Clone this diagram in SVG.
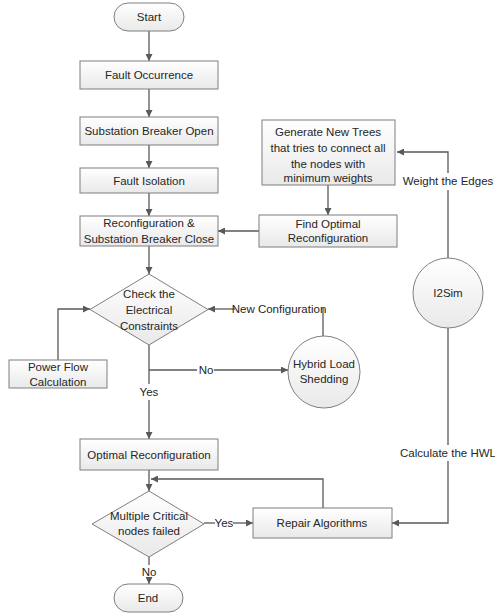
<svg xmlns="http://www.w3.org/2000/svg" width="495" height="615" viewBox="0 0 495 615">
<defs>
<linearGradient id="g" x1="0" y1="0" x2="0" y2="1">
<stop offset="0" stop-color="#ffffff"/>
<stop offset="1" stop-color="#e9e9e9"/>
</linearGradient>
<marker id="a" viewBox="0 0 10 10" refX="10" refY="5" markerWidth="7" markerHeight="7" markerUnits="userSpaceOnUse" orient="auto">
<path d="M0,0 L10,5 L0,10 z" fill="#595959"/>
</marker>
<style>
.n{fill:url(#g);stroke:#7f7f7f;stroke-width:1}
.t{font-family:"Liberation Sans",Arial,sans-serif;font-size:11.5px;fill:#262626;text-anchor:middle}
.c{fill:none;stroke:#595959;stroke-width:1.3}
.ca{fill:none;stroke:#595959;stroke-width:1.3;marker-end:url(#a)}
</style>
</defs>
<rect width="495" height="615" fill="#ffffff"/>
<g id="connectors">
<line class="ca" x1="149" y1="31" x2="149" y2="61"/>
<line class="ca" x1="149" y1="89" x2="149" y2="117"/>
<line class="ca" x1="149" y1="145" x2="149" y2="168"/>
<line class="ca" x1="149" y1="193" x2="149" y2="216"/>
<line class="ca" x1="149" y1="246" x2="149" y2="274"/>
<line class="ca" x1="259" y1="231" x2="218" y2="231"/>
<line class="ca" x1="328" y1="185" x2="328" y2="215"/>
<line class="c" x1="448" y1="258" x2="448" y2="190"/>
<polyline class="ca" points="448,173 448,152 397,152"/>
<polyline class="ca" points="58,360 58,309 90,309"/>
<polyline class="c" points="149,345 149,384"/>
<polyline class="c" points="149,370 197,370"/>
<line class="ca" x1="214" y1="370" x2="288" y2="370"/>
<polyline class="c" points="323,336 323,308"/>
<line class="ca" x1="235" y1="309" x2="208" y2="309"/>
<line class="ca" x1="149" y1="400" x2="149" y2="439"/>
<line class="ca" x1="149" y1="470" x2="149" y2="491"/>
<polyline class="ca" points="323,508 323,479 151,479"/>
<line class="c" x1="204" y1="523" x2="215" y2="523"/>
<line class="ca" x1="233" y1="523" x2="253" y2="523"/>
<line class="c" x1="448" y1="328" x2="448" y2="445"/>
<polyline class="ca" points="448,461 448,523 392,523"/>
<line class="c" x1="149" y1="557" x2="149" y2="565"/>
<line class="ca" x1="149" y1="579" x2="149" y2="584"/>
<text class="t" x="206" y="374">No</text>
<text class="t" x="149" y="396">Yes</text>
<text class="t" x="279" y="313">New Configuration</text>
<text class="t" x="448" y="185">Weight the Edges</text>
<text class="t" x="448" y="457">Calculate the HWL</text>
<text class="t" x="224" y="527">Yes</text>
<text class="t" x="149" y="576">No</text>
</g>
<g id="start"><rect class="n" x="114" y="3" width="70" height="28" rx="14"/><text class="t" x="149" y="21">Start</text></g>
<g id="fault-occurrence"><rect class="n" x="80" y="61" width="138" height="28"/><text class="t" x="149" y="79">Fault Occurrence</text></g>
<g id="breaker-open"><rect class="n" x="80" y="117" width="138" height="28"/><text class="t" x="149" y="135">Substation Breaker Open</text></g>
<g id="fault-isolation"><rect class="n" x="80" y="168" width="138" height="25"/><text class="t" x="149" y="185">Fault Isolation</text></g>
<g id="reconfig-close"><rect class="n" x="80" y="216" width="138" height="30"/><text class="t" x="149" y="227">Reconfiguration &amp;</text><text class="t" x="149" y="243">Substation Breaker Close</text></g>
<g id="check-constraints"><polygon class="n" points="149,274 208,309.5 149,345 90,309.5"/><text class="t" x="149" y="298">Check the</text><text class="t" x="149" y="314">Electrical</text><text class="t" x="149" y="330">Constraints</text></g>
<g id="power-flow"><rect class="n" x="9" y="360" width="98" height="28"/><text class="t" x="58" y="371">Power Flow</text><text class="t" x="58" y="386">Calculation</text></g>
<g id="hybrid-load-shedding"><circle class="n" cx="324" cy="372" r="36"/><text class="t" x="324" y="368">Hybrid Load</text><text class="t" x="324" y="383">Shedding</text></g>
<g id="generate-trees"><rect class="n" x="262" y="120" width="133" height="65"/><text class="t" x="328" y="136">Generate New Trees</text><text class="t" x="328" y="152">that tries to connect all</text><text class="t" x="328" y="168">the nodes with</text><text class="t" x="328" y="182">minimum weights</text></g>
<g id="find-optimal"><rect class="n" x="259" y="215" width="138" height="32"/><text class="t" x="328" y="228">Find Optimal</text><text class="t" x="328" y="242">Reconfiguration</text></g>
<g id="i2sim"><circle class="n" cx="448" cy="293" r="35"/><text class="t" x="448" y="297">I2Sim</text></g>
<g id="optimal-reconfiguration"><rect class="n" x="80" y="439" width="138" height="31"/><text class="t" x="149" y="459">Optimal Reconfiguration</text></g>
<g id="multiple-critical"><polygon class="n" points="149,491 204,524 149,557 92,524"/><text class="t" x="149" y="520">Multiple Critical</text><text class="t" x="149" y="535">nodes failed</text></g>
<g id="repair"><rect class="n" x="253" y="508" width="139" height="30"/><text class="t" x="322" y="527">Repair Algorithms</text></g>
<g id="end"><rect class="n" x="114" y="584" width="69" height="28" rx="14"/><text class="t" x="148" y="602">End</text></g>
</svg>
